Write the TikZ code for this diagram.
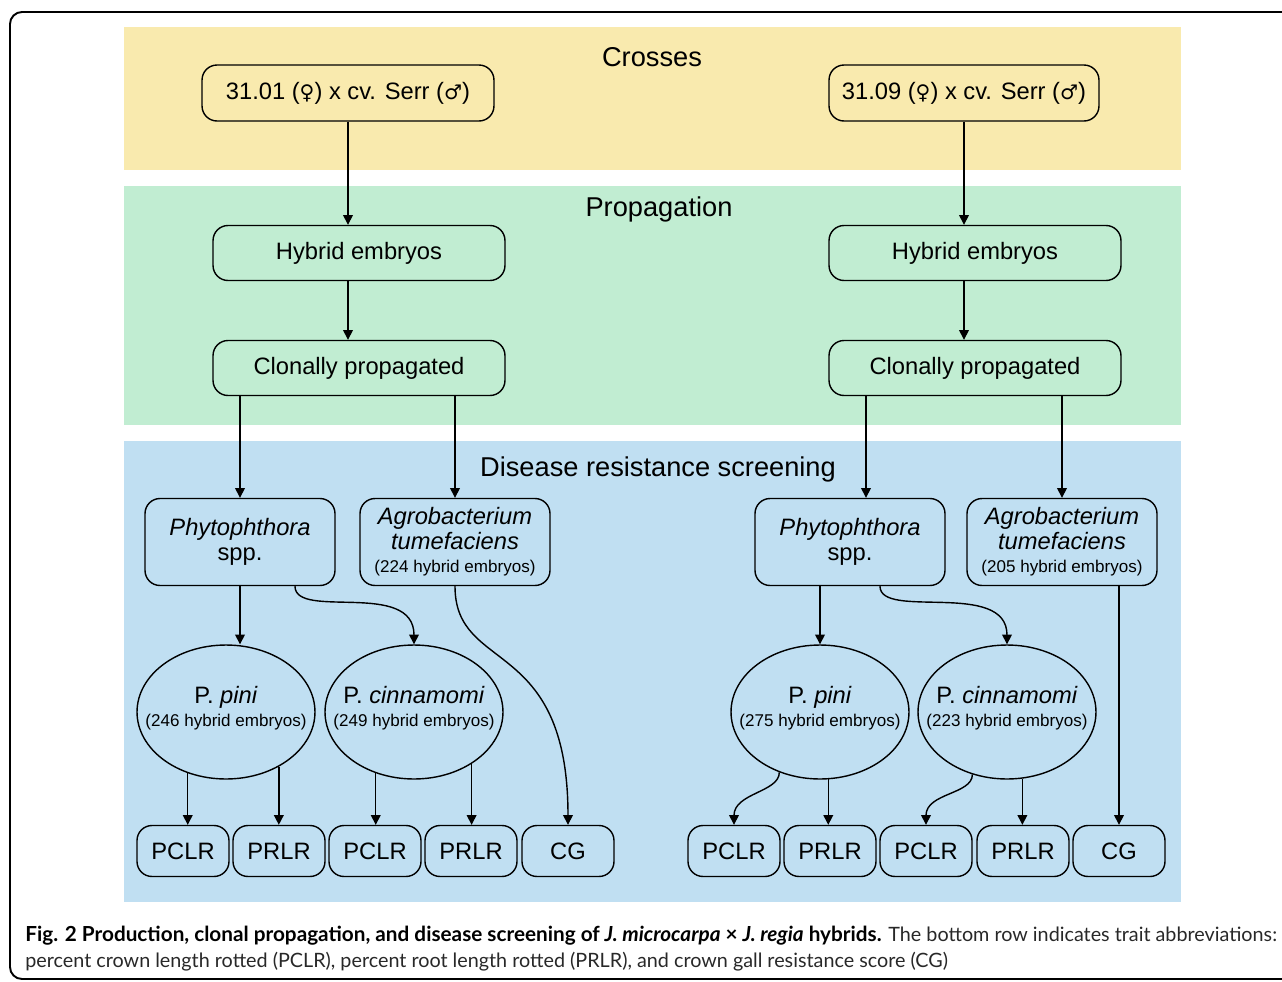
\documentclass[tikz,border=0pt]{standalone}
\usepackage{fontspec}
\setmainfont{Liberation Sans}
\newfontfamily\captionFont{Lato}
\newfontfamily\symbolFont{DejaVu Sans}
\usetikzlibrary{positioning, arrows.meta, shapes.geometric}
\definecolor{crossColor}{RGB}{249,234,174}
\definecolor{propColor}{RGB}{193,237,210}
\definecolor{screenColor}{RGB}{192,223,242}
\definecolor{captionGray}{RGB}{40,40,40}
\tikzstyle{diagram} = [x = 0.02cm, y = -0.02cm]
\tikzstyle{bandTitle} = [font=\fontsize{15.5}{18}\selectfont]
\tikzstyle{boxStyle} = [draw, rounded corners = .3cm, line width = .8pt, align = center, inner sep = 0pt, font=\fontsize{13.5}{14.2}\selectfont]
\tikzstyle{ellipseStyle} = [draw, ellipse, line width = .8pt, align = center, inner ysep = 0pt, inner xsep = -.4cm, minimum width = 3.56cm, minimum height = 2.68cm, font=\fontsize{13.5}{14.2}\selectfont]
\tikzstyle{traitStyle} = [boxStyle, minimum width = 1.84cm, minimum height = 1.02cm]
\tikzstyle{arrowLine} = [-{Triangle[length = 5.5pt, width = 5.5pt]}, line width = .8pt]
\newcommand{\smallText}[1]{{\fontsize{9.7}{14.2}\selectfont #1}}
\newcommand{\countText}[1]{\smallText{#1\rule[-6.5pt]{0pt}{0pt}}}
\newcommand{\sexSign}[1]{{\symbolFont\fontsize{11.5}{14.2}\selectfont #1}}

\begin{document}
\begin{tikzpicture}[diagram]
  \useasboundingbox (0,0) rectangle (1282,981);
  \draw [line width = 1.1pt, rounded corners = .24cm] (1300,12) -- (10,12) -- (10,979) -- (1300,979);

  \fill [crossColor] (124,27) rectangle (1181,170);
  \fill [propColor] (124,186) rectangle (1181,425);
  \fill [screenColor] (124,441) rectangle (1181,902);
  \node [bandTitle] (crossTitle) at (652,57) {Crosses};
  \node [bandTitle] (propTitle) at (659,209) {Propagation};
  \node [bandTitle] (screenTitle) at (658,469) {Disease resistance screening};

  \node [boxStyle, minimum width = 5.84cm, minimum height = 1.12cm] (cross1) at (348,93) {31.01 (\sexSign{♀}) x cv. Serr (\sexSign{♂})};
  \node [boxStyle, minimum width = 5.4cm, minimum height = 1.12cm] (cross2) at (964,93) {31.09 (\sexSign{♀}) x cv. Serr (\sexSign{♂})};
  \node [boxStyle, minimum width = 5.84cm, minimum height = 1.1cm] (hyb1) at (359,253) {Hybrid embryos};
  \node [boxStyle, minimum width = 5.84cm, minimum height = 1.1cm] (hyb2) at (975,253) {Hybrid embryos};
  \node [boxStyle, minimum width = 5.84cm, minimum height = 1.1cm] (clon1) at (359,368) {Clonally propagated};
  \node [boxStyle, minimum width = 5.84cm, minimum height = 1.1cm] (clon2) at (975,368) {Clonally propagated};

  \node [boxStyle, minimum width = 3.8cm, minimum height = 1.74cm] (phy1) at (240,542) {\textit{Phytophthora}\\spp.};
  \node [boxStyle, minimum width = 3.8cm, minimum height = 1.74cm] (agro1) at (455,542) {\textit{Agrobacterium}\\\textit{tumefaciens}\\[-1.2pt]\smallText{(224 hybrid embryos)}};
  \node [boxStyle, minimum width = 3.8cm, minimum height = 1.74cm] (phy2) at (850,542) {\textit{Phytophthora}\\spp.};
  \node [boxStyle, minimum width = 3.8cm, minimum height = 1.74cm] (agro2) at (1062,542) {\textit{Agrobacterium}\\\textit{tumefaciens}\\[-1.2pt]\smallText{(205 hybrid embryos)}};

  \node [ellipseStyle] (pini1) at (226,712) {P. \textit{pini}\\[-1.2pt]\countText{(246 hybrid embryos)}};
  \node [ellipseStyle] (cinn1) at (414,712) {P. \textit{cinnamomi}\\[-1.2pt]\countText{(249 hybrid embryos)}};
  \node [ellipseStyle] (pini2) at (820,712) {P. \textit{pini}\\[-1.2pt]\countText{(275 hybrid embryos)}};
  \node [ellipseStyle] (cinn2) at (1007,712) {P. \textit{cinnamomi}\\[-1.2pt]\countText{(223 hybrid embryos)}};

  \foreach \name/\xpos/\trait in {pclrA/183/PCLR, prlrA/279/PRLR, pclrB/375/PCLR, prlrB/471/PRLR, cgA/568/CG,
                                 pclrC/734/PCLR, prlrC/830/PRLR, pclrD/926/PCLR, prlrD/1023/PRLR, cgB/1119/CG}
    \node [traitStyle] (\name) at (\xpos,851) {\trait};

  \draw [arrowLine] (cross1.south) -- (cross1.south |- hyb1.north);
  \draw [arrowLine] ([xshift = -.22cm]hyb1.south) -- ([xshift = -.22cm]clon1.north);
  \draw [arrowLine] (cross2.south) -- (cross2.south |- hyb2.north);
  \draw [arrowLine] ([xshift = -.22cm]hyb2.south) -- ([xshift = -.22cm]clon2.north);

  \draw [arrowLine] (clon1.south -| phy1.north) -- (phy1.north);
  \draw [arrowLine] (clon1.south -| agro1.north) -- (agro1.north);
  \draw [arrowLine] (clon2.south -| phy2.north) ++(.32cm,0) -- ([xshift = .32cm]phy2.north);
  \draw [arrowLine] (clon2.south -| agro2.north) -- (agro2.north);

  \draw [arrowLine] (phy1.south) -- (phy1.south |- pini1.north);
  \draw [arrowLine] ([xshift = 1.1cm]phy1.south) .. controls +(0,34) and +(0,-65) .. (cinn1.north);
  \draw [arrowLine] (agro1.south) .. controls +(0,88) and +(0,-190) .. (cgA.north);
  \draw [arrowLine] (pini2.north |- phy2.south) -- (pini2.north);
  \draw [arrowLine] ([xshift = .6cm]phy2.south) .. controls +(0,34) and +(0,-65) .. (cinn2.north);
  \draw [arrowLine] (cgB.north |- agro2.south) -- (cgB.north);

  \draw [arrowLine] (pini1.238) -- (pini1.238 |- pclrA.north);
  \draw [arrowLine] (pini1.314.6) -- (pini1.314.6 |- prlrA.north);
  \draw [arrowLine] (cinn1.238) -- (cinn1.238 |- pclrB.north);
  \draw [arrowLine] (cinn1.318.8) -- (cinn1.318.8 |- prlrB.north);
  \draw [arrowLine] (pini2.236) .. controls +(0,20) and +(0,-32) .. (pclrC.north);
  \draw [arrowLine] (pini2.277.7) -- (pini2.277.7 |- prlrC.north);
  \draw [arrowLine] (cinn2.241) .. controls +(0,20) and +(0,-32) .. (pclrD.north);
  \draw [arrowLine] (cinn2.283.6) -- (cinn2.283.6 |- prlrD.north);

  \node [anchor = base west, inner sep = 0pt, font = \captionFont\fontsize{11.25}{13}\selectfont] (capLine1) at (25,941)
    {{\fontsize{11.8}{13}\selectfont\textbf{Fig. 2 Production, clonal propagation, and disease screening of \textit{J. microcarpa} × \textit{J. regia} hybrids.}} \textcolor{captionGray}{The bottom row indicates trait abbreviations:}};
  \node [anchor = base west, inner sep = 0pt, font = \captionFont\fontsize{11.25}{13}\selectfont, text = captionGray] (capLine2) at (25,967)
    {percent crown length rotted (PCLR), percent root length rotted (PRLR), and crown gall resistance score (CG)};
\end{tikzpicture}
\end{document}
